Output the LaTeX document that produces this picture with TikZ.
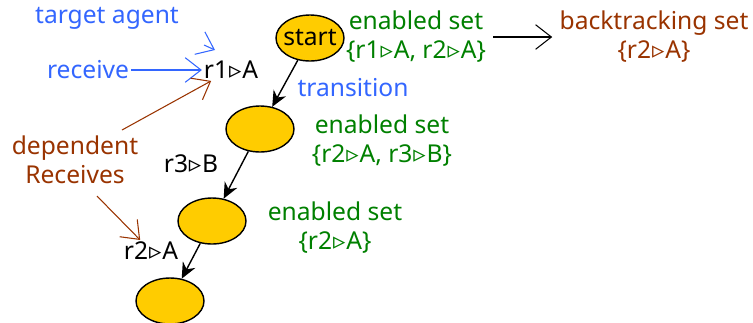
\documentclass[tikz,border=0pt]{standalone}
\usepackage{fontspec}
\setmainfont{Noto Sans}
\newfontfamily\trifont{DejaVu Sans}
\usetikzlibrary{arrows,shapes}
\usetikzlibrary{arrows.meta}
\newcommand{\rcv}[2]{r#1{\trifont\kern0.5pt▹\kern0.5pt}#2}
\definecolor{stategold}{RGB}{255,204,0}
\definecolor{noteblue}{RGB}{51,102,255}
\definecolor{notegreen}{RGB}{0,128,0}
\definecolor{notebrown}{RGB}{153,51,0}
\tikzstyle{state}=[ellipse,fill=stategold,draw,line width=0.8pt,minimum width=1.36cm,minimum height=0.92cm,inner xsep=-3pt,inner ysep=0pt]
\tikzstyle{trans} = [draw,thick,-{Stealth[length=9pt,width=8pt]}]
\tikzstyle{pointer} = [draw,semithick,-{Straight Barb[length=9pt,width=14pt]}]
\tikzstyle{label} = [font=\fontsize{14}{16.5}\selectfont,inner sep=1pt]
\begin{document}
\begin{tikzpicture}[x=0.02cm,y=-0.02cm]
   \useasboundingbox (0,0) rectangle (753,322);

    % states of the search
    \foreach \pos/ \name/ \txt in {{(310,38)/s0/start},{(260,129)/s1/{}},{(212,221)/s2/{}},{(170,301)/s3/{}}}
        \node[state,label,inner xsep=-3pt] (\name) at \pos {\txt};

    % transitions
    \foreach \source/ \dest in {s0/s1, s1/s2, s2/s3}
        \path[trans] (\source) -- (\dest);

    % receives on the transitions
    \node[label] (r1) at (231,70) {\rcv{1}{A}};
    \node[label] (r3) at (191,164) {\rcv{3}{B}};
    \node[label] (r2) at (151,251) {\rcv{2}{A}};

    % notes
    \node[label,text=noteblue] (agent) at (107,18) {target agent};
    \node[label,text=noteblue] (recv) at (88,70) {receive};
    \node[label,text=noteblue] (trn) at (353,88) {transition};
    \node[label,text=notebrown,align=center] (dep) at (75,160) {dependent\\Receives};

    \coordinate (tipa) at (204,45);
    \coordinate (tipb) at (215,50);
    \path[pointer,noteblue] (tipa) -- (tipb);
    \path[pointer,noteblue] (recv) -- (r1);
    \path[pointer,notebrown] (122,130) -- (r1);
    \path[pointer,notebrown] (dep.south) ++(22,10) coordinate (depa) (depa) -- (r2);

    % enabled sets
    \node[label,text=notegreen,align=center] (en0) at (416,37) {enabled set\\\{\rcv{1}{A}, \rcv{2}{A}\}};
    \node[label,text=notegreen,align=center] (en1) at (382,141) {enabled set\\\{\rcv{2}{A}, \rcv{3}{B}\}};
    \node[label,text=notegreen,align=center] (en2) at (335,228) {enabled set\\\{\rcv{2}{A}\}};
    \node[label,text=notebrown,align=center] (bt) at (654,37) {backtracking set\\\{\rcv{2}{A}\}};

    \path[pointer,black,shorten <=3pt,shorten >=3pt] (en0) -- (bt);

\end{tikzpicture}
\end{document}
